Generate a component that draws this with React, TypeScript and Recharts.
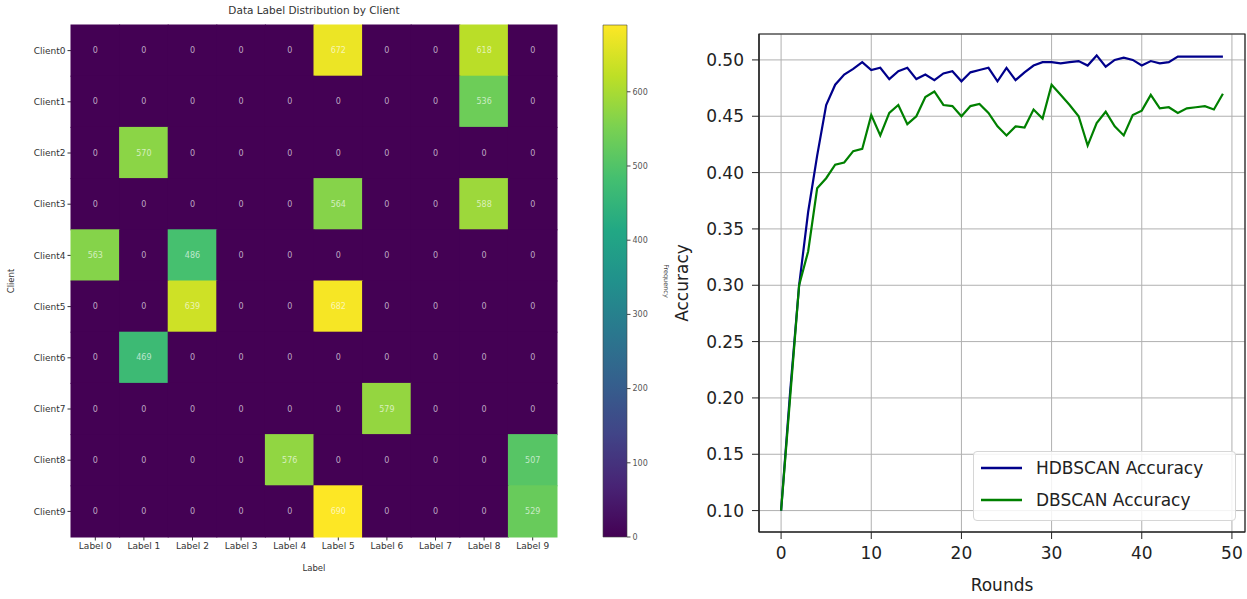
import React from "react";
import {
  ScatterChart,
  Scatter,
  XAxis,
  YAxis,
  BarChart,
  Bar,
  LineChart,
  Line,
  CartesianGrid,
  ReferenceArea,
} from "recharts";

// ---- heatmap data ----
const clients = ["Client0", "Client1", "Client2", "Client3", "Client4", "Client5", "Client6", "Client7", "Client8", "Client9"];
const labelNames = ["Label 0", "Label 1", "Label 2", "Label 3", "Label 4", "Label 5", "Label 6", "Label 7", "Label 8", "Label 9"];
const counts = [
  [0, 0, 0, 0, 0, 672, 0, 0, 618, 0],
  [0, 0, 0, 0, 0, 0, 0, 0, 536, 0],
  [0, 570, 0, 0, 0, 0, 0, 0, 0, 0],
  [0, 0, 0, 0, 0, 564, 0, 0, 588, 0],
  [563, 0, 486, 0, 0, 0, 0, 0, 0, 0],
  [0, 0, 639, 0, 0, 682, 0, 0, 0, 0],
  [0, 469, 0, 0, 0, 0, 0, 0, 0, 0],
  [0, 0, 0, 0, 0, 0, 579, 0, 0, 0],
  [0, 0, 0, 0, 576, 0, 0, 0, 0, 507],
  [0, 0, 0, 0, 0, 690, 0, 0, 0, 529],
];
const colorbarTicks = [0, 100, 200, 300, 400, 500, 600];
const vmax = 690;

// ---- accuracy data ----
const rounds = [
  0, 1, 2, 3, 4, 5, 6, 7, 8, 9, 10, 11, 12, 13, 14, 15, 16, 17, 18, 19, 20, 21, 22, 23, 24,
  25, 26, 27, 28, 29, 30, 31, 32, 33, 34, 35, 36, 37, 38, 39, 40, 41, 42, 43, 44, 45, 46, 47, 48, 49,
];
const hdbscan = [
  0.1, 0.205, 0.3, 0.365, 0.415, 0.46, 0.478, 0.487, 0.492, 0.498,
  0.491, 0.493, 0.483, 0.49, 0.493, 0.483, 0.487, 0.482, 0.488, 0.49,
  0.481, 0.489, 0.491, 0.493, 0.481, 0.493, 0.482, 0.489, 0.495, 0.498,
  0.498, 0.497, 0.498, 0.499, 0.495, 0.504, 0.494, 0.5, 0.502, 0.5,
  0.495, 0.499, 0.497, 0.498, 0.503, 0.503, 0.503, 0.503, 0.503, 0.503,
];
const dbscan = [
  0.1, 0.2, 0.3, 0.33, 0.386, 0.395, 0.407, 0.409, 0.419, 0.421,
  0.451, 0.433, 0.453, 0.46, 0.443, 0.45, 0.467, 0.472, 0.46, 0.459,
  0.45, 0.459, 0.461, 0.453, 0.441, 0.433, 0.441, 0.44, 0.456, 0.448,
  0.478, 0.469, 0.46, 0.45, 0.424, 0.444, 0.454, 0.441, 0.433, 0.451,
  0.455, 0.469, 0.457, 0.458, 0.453, 0.457, 0.458, 0.459, 0.456, 0.47,
];
const xTicks = [0, 10, 20, 30, 40, 50];
const yTicks = [0.1, 0.15, 0.2, 0.25, 0.3, 0.35, 0.4, 0.45, 0.5];

const series = [
  { key: "hdbscan", name: "HDBSCAN Accuracy", color: "#00008b" },
  { key: "dbscan", name: "DBSCAN Accuracy", color: "#008000" },
];

const FONT = "DejaVu Sans";

const viridisStops = [
  "#440154", "#482475", "#414487", "#355f8d", "#2a788e", "#21918c",
  "#22a884", "#44bf70", "#7ad151", "#bddf26", "#fde725",
];

function hexToRgb(h: string) {
  return [parseInt(h.slice(1, 3), 16), parseInt(h.slice(3, 5), 16), parseInt(h.slice(5, 7), 16)];
}

function viridis(t: number) {
  const c = Math.max(0, Math.min(1, t)) * 10;
  const i = Math.min(9, Math.floor(c));
  const f = c - i;
  const a = hexToRgb(viridisStops[i]);
  const b = hexToRgb(viridisStops[i + 1]);
  const m = a.map((v, k) => Math.round(v + (b[k] - v) * f));
  return `rgb(${m[0]},${m[1]},${m[2]})`;
}

const cells = counts.flatMap((row, y) => row.map((val, x) => ({ x, y, v: val })));

// heatmap plot area size (chart width/height minus margins & axes)
const HM_W = 486;
const HM_H = 512;
const CW = HM_W / labelNames.length;
const CH = HM_H / clients.length;

const HeatCell = (props: any) => {
  const { cx, cy, payload } = props;
  return (
    <g>
      <rect
        x={cx - CW / 2 - 0.5}
        y={cy - CH / 2 - 0.5}
        width={CW + 1}
        height={CH + 1}
        fill={viridis(payload.v / vmax)}
      />
      <text
        x={cx}
        y={cy}
        textAnchor="middle"
        dominantBaseline="central"
        fontSize={8}
        fontFamily={FONT}
        fill="#ffffff"
        fillOpacity={0.65}
      >
        {payload.v}
      </text>
    </g>
  );
};

const lineData = rounds.map((r, i) => ({ round: r, hdbscan: hdbscan[i], dbscan: dbscan[i] }));

export default function App() {
  return (
    <div
      style={{
        position: "absolute",
        left: 0,
        top: 0,
        width: 1247,
        height: 599,
        background: "#fff",
        fontFamily: FONT,
      }}
    >
      {/* Heatmap title */}
      <div
        style={{
          position: "absolute",
          left: 71,
          width: HM_W,
          top: 4,
          textAlign: "center",
          fontSize: 10.5,
          color: "#333",
        }}
      >
        Data Label Distribution by Client
      </div>

      {/* Heatmap */}
      <div style={{ position: "absolute", left: 0, top: 0 }}>
        <ScatterChart width={580} height={599} margin={{ top: 25, right: 23, bottom: 0, left: 0 }}>
          <XAxis
            type="number"
            dataKey="x"
            domain={[-0.5, 9.5]}
            ticks={[0, 1, 2, 3, 4, 5, 6, 7, 8, 9]}
            tickFormatter={(i: number) => labelNames[i]}
            interval={0}
            height={62}
            axisLine={false}
            tickSize={3.5}
            tickMargin={2}
            tickLine={{ stroke: "#333" }}
            tick={{ fontSize: 9, fill: "#333", fontFamily: FONT }}
            label={{ value: "Label", position: "insideBottom", offset: 28, fontSize: 8.5, fill: "#333" }}
          />
          <YAxis
            type="number"
            dataKey="y"
            domain={[-0.5, 9.5]}
            reversed
            ticks={[0, 1, 2, 3, 4, 5, 6, 7, 8, 9]}
            tickFormatter={(i: number) => clients[i]}
            interval={0}
            width={71}
            axisLine={false}
            tickSize={3.5}
            tickMargin={2}
            tickLine={{ stroke: "#333" }}
            tick={{ fontSize: 9, fill: "#333", fontFamily: FONT }}
            label={{
              value: "Client",
              angle: -90,
              position: "insideLeft",
              offset: 11,
              fontSize: 8.5,
              fill: "#333",
              style: { textAnchor: "middle" },
            }}
          />
          <Scatter data={cells} shape={HeatCell} isAnimationActive={false} />
        </ScatterChart>
      </div>

      {/* Colorbar */}
      <div style={{ position: "absolute", left: 590, top: 0 }}>
        <BarChart
          width={100}
          height={599}
          data={[{ name: "cb", v: vmax }]}
          margin={{ top: 25, right: 0, bottom: 62, left: 13 }}
          barCategoryGap={0}
        >
          <defs>
            <linearGradient id="viridisGrad" x1="0" y1="1" x2="0" y2="0">
              {viridisStops.map((c, i) => (
                <stop key={c} offset={`${i * 10}%`} stopColor={c} />
              ))}
            </linearGradient>
          </defs>
          <XAxis dataKey="name" hide />
          <YAxis
            orientation="right"
            type="number"
            domain={[0, vmax]}
            ticks={colorbarTicks}
            width={63}
            axisLine={false}
            tickSize={3.5}
            tickMargin={2}
            tickLine={{ stroke: "#444" }}
            tick={{ fontSize: 8, fill: "#555", fontFamily: FONT }}
            label={{
              value: "Frequency",
              angle: 90,
              position: "insideRight",
              offset: 24,
              fontSize: 6.5,
              fill: "#444",
              style: { textAnchor: "middle" },
            }}
          />
          <Bar dataKey="v" fill="url(#viridisGrad)" stroke="#444" strokeWidth={0.6} isAnimationActive={false} />
        </BarChart>
      </div>

      {/* Accuracy line chart */}
      <div style={{ position: "absolute", left: 660, top: 0 }}>
        <LineChart width={587} height={599} data={lineData} margin={{ top: 34, right: 2, bottom: 0, left: 0 }}>
          <CartesianGrid stroke="#b0b0b0" strokeWidth={1} />
          <XAxis
            type="number"
            dataKey="round"
            domain={[-2.45, 51.45]}
            ticks={xTicks}
            allowDataOverflow
            height={67}
            axisLine={{ stroke: "#222", strokeWidth: 1.2 }}
            tickLine={{ stroke: "#222" }}
            tickSize={7}
            tickMargin={8}
            tick={{ fontSize: 17, fill: "#222", fontFamily: FONT }}
            label={{ value: "Rounds", position: "insideBottom", offset: 8, fontSize: 17, fill: "#222" }}
          />
          <YAxis
            type="number"
            domain={[0.081, 0.523]}
            ticks={yTicks}
            allowDataOverflow
            tickFormatter={(v: number) => v.toFixed(2)}
            width={99}
            axisLine={{ stroke: "#222", strokeWidth: 1.2 }}
            tickLine={{ stroke: "#222" }}
            tickSize={7}
            tickMargin={8}
            tick={{ fontSize: 17, fill: "#222", fontFamily: FONT }}
            label={{
              value: "Accuracy",
              angle: -90,
              position: "insideLeft",
              offset: 22,
              fontSize: 17,
              fill: "#222",
              style: { textAnchor: "middle" },
            }}
          />
          <ReferenceArea
            x1={-2.45}
            x2={51.45}
            y1={0.081}
            y2={0.523}
            fill="none"
            stroke="#222"
            strokeWidth={1.2}
            ifOverflow="visible"
          />
          {series.map((s) => (
            <Line
              key={s.key}
              type="linear"
              dataKey={s.key}
              name={s.name}
              stroke={s.color}
              strokeWidth={2.2}
              dot={false}
              isAnimationActive={false}
            />
          ))}
        </LineChart>
      </div>

      {/* Legend of the accuracy chart */}
      <div
        style={{
          position: "absolute",
          left: 973,
          top: 451,
          boxSizing: "border-box",
          height: 70,
          width: 263,
          border: "1px solid #d6d6d6",
          borderRadius: 4,
          background: "rgba(255,255,255,0.85)",
          padding: "0 7px",
          fontSize: 17,
          color: "#222",
        }}
      >
        {series.map((s) => (
          <div key={s.key} style={{ display: "flex", alignItems: "center", height: 32 }}>
            <svg width={41} height={4} style={{ display: "block" }}>
              <line x1={0} y1={2} x2={41} y2={2} stroke={s.color} strokeWidth={2.5} />
            </svg>
            <span style={{ marginLeft: 14 }}>{s.name}</span>
          </div>
        ))}
      </div>
    </div>
  );
}
